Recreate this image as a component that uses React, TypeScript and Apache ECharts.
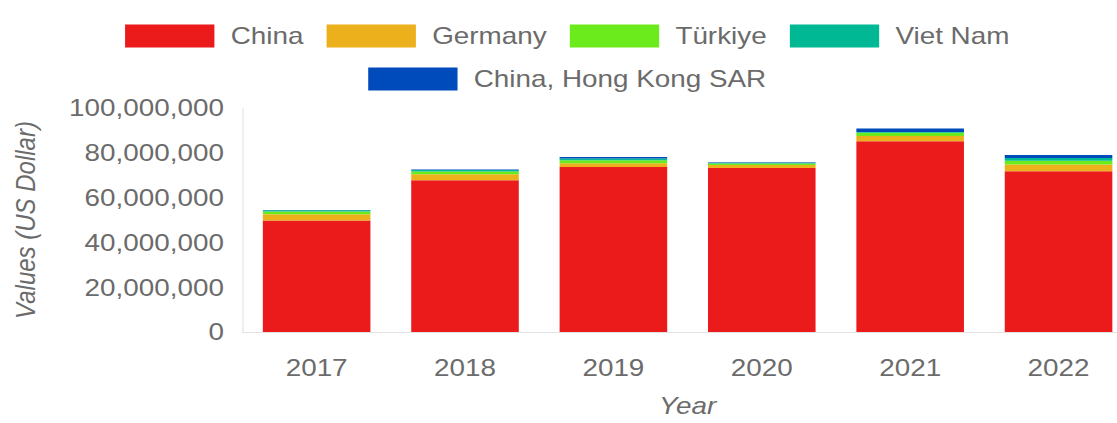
import React, { useEffect, useRef } from "react";
import * as echarts from "echarts";

const years = ["2017", "2018", "2019", "2020", "2021", "2022"];
const seriesNames = ["China", "Germany", "Türkiye", "Viet Nam", "China, Hong Kong SAR"];
const china = [49800000, 67800000, 73700000, 73200000, 85200000, 71800000];
const germany = [2800000, 2600000, 1600000, 1400000, 2300000, 3000000];
const turkiye = [1200000, 1300000, 1400000, 600000, 1500000, 1700000];
const vietnam = [600000, 600000, 700000, 400000, 300000, 1200000];
const hongkong = [100000, 300000, 700000, 200000, 1600000, 1300000];
const colors = ["#EB1B1B", "#EBB01B", "#6BEB1B", "#00B994", "#004BBB"];

const FONT = "'Liberation Sans', Arial, sans-serif";
const GREY = "#6b6b6b";
const SX = 1.16;
const CW = 978;
const CH = 423;

export default function App() {
  const ref = useRef<HTMLDivElement>(null);
  useEffect(() => {
    document.body.style.margin = "0";
    if (!ref.current) return;
    const chart = echarts.init(ref.current, undefined, { renderer: "svg" });
    const values = [china, germany, turkiye, vietnam, hongkong];
    const legendText = {
      color: GREY,
      fontFamily: FONT,
      fontSize: 24,
      padding: [0, 0, 0, 9],
    };
    chart.setOption({
      animation: false,
      color: colors,
      legend: [
        {
          data: seriesNames.slice(0, 4),
          left: "center",
          top: 19,
          icon: "rect",
          itemWidth: 77,
          itemHeight: 23,
          itemGap: 20,
          textStyle: legendText,
        },
        {
          data: seriesNames.slice(4),
          left: "center",
          top: 62,
          icon: "rect",
          itemWidth: 77,
          itemHeight: 23,
          itemGap: 20,
          textStyle: legendText,
        },
      ],
      grid: { left: 209, right: 1.5, top: 108, bottom: 86, containLabel: false },
      xAxis: {
        type: "category",
        data: years,
        name: "Year",
        nameLocation: "middle",
        nameGap: 62,
        nameTextStyle: { color: GREY, fontFamily: FONT, fontSize: 24, fontStyle: "italic" },
        axisLine: { show: true, lineStyle: { color: "#e2e2e2", width: 1 } },
        axisTick: { show: false },
        axisLabel: { color: GREY, fontFamily: FONT, fontSize: 24, margin: 24 },
      },
      yAxis: {
        type: "value",
        min: 0,
        max: 100000000,
        interval: 20000000,
        name: "Values (US Dollar)",
        nameLocation: "middle",
        nameGap: 175,
        nameTextStyle: { color: GREY, fontFamily: FONT, fontSize: 24, fontStyle: "italic" },
        axisLine: { show: true, lineStyle: { color: "#e2e2e2", width: 1 } },
        axisTick: { show: false },
        splitLine: { show: false },
        axisLabel: {
          color: GREY,
          fontFamily: FONT,
          fontSize: 24,
          margin: 16,
          formatter: (v: number) => v.toLocaleString("en-US"),
        },
      },
      series: seriesNames.map((name, i) => ({
        name,
        type: "bar",
        stack: "total",
        barWidth: "72.5%",
        data: values[i],
        itemStyle: { color: colors[i] },
      })),
    });
    return () => chart.dispose();
  }, []);
  return (
    <div style={{ width: 1117, height: CH, overflow: "hidden", position: "relative" }}>
      <div
        ref={ref}
        style={{
          width: CW,
          height: CH,
          transform: `scaleX(${SX})`,
          transformOrigin: "0 0",
        }}
      />
    </div>
  );
}
